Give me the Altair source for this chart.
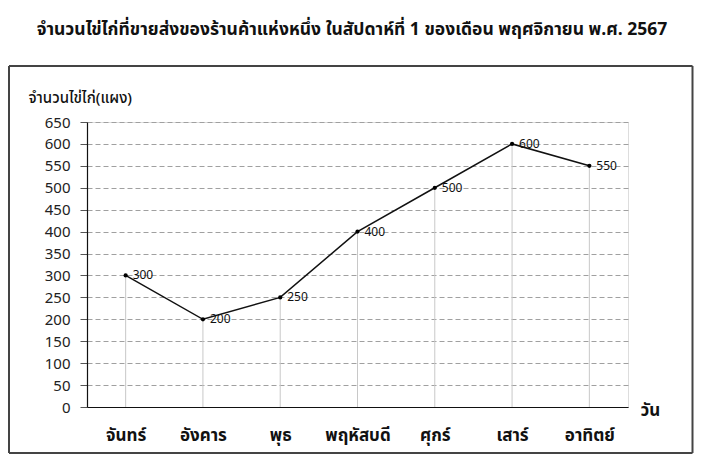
import altair as alt
import pandas as pd

days = ["จันทร์", "อังคาร", "พุธ", "พฤหัสบดี", "ศุกร์", "เสาร์", "อาทิตย์"]
eggs = [300, 200, 250, 400, 500, 600, 550]
y_ticks = list(range(0, 651, 50))
title_text = "จำนวนไข่ไก่ที่ขายส่งของร้านค้าแห่งหนึ่ง ในสัปดาห์ที่ 1 ของเดือน พฤศจิกายน พ.ศ. 2567"

FONT = "Noto Sans Thai, Tahoma, Noto Sans, sans-serif"

df = pd.DataFrame({"day": days, "eggs": eggs})

x_enc = alt.X(
    "day:N", sort=days,
    scale=alt.Scale(type="point", padding=0.5),
    axis=alt.Axis(
        title="วัน", titleAngle=0, titleAlign="left", titleBaseline="middle",
        titleX=553, titleY=3, titleFontSize=17, titleFontWeight="bold",
        titleColor="#111", titleFont=FONT,
        labelFont=FONT, labelFontSize=17, labelFontWeight="bold", labelColor="#111",
        labelPadding=20, ticks=False, grid=False, domainColor="#111", domainWidth=1.2,
        labelAngle=0,
    ),
)
y_enc = alt.Y(
    "eggs:Q",
    scale=alt.Scale(domain=[0, 650], nice=False),
    axis=alt.Axis(
        values=y_ticks, title="จำนวนไข่ไก่(แผง)", titleAngle=0, titleAlign="left",
        titleBaseline="middle", titleX=-59, titleY=-25, titleFontSize=15,
        titleFontWeight=500, titleColor="#111", titleFont=FONT,
        labelFont=FONT, labelFontSize=15, labelColor="#222", labelPadding=10,
        tickSize=7, tickColor="#555", domainColor="#111", domainWidth=1.2,
        grid=True, gridColor="#a0a0a0", gridDash=[5, 3], gridWidth=1,
    ),
)

base = alt.Chart(df)

drop = base.mark_rule(color="#c8c8c8", strokeWidth=1).encode(
    x=x_enc, y=y_enc, y2=alt.datum(0)
)
line = base.mark_line(color="#111", strokeWidth=1.5).encode(x=x_enc, y=y_enc)
pts = base.mark_point(filled=True, color="#000", size=18, opacity=1).encode(x=x_enc, y=y_enc)
lbl = base.mark_text(align="left", baseline="middle", dx=7, fontSize=12, font=FONT, color="#111").encode(
    x=x_enc, y=y_enc, text="eggs:Q"
)

one = pd.DataFrame({"t": [title_text]})
fr = dict(color="#444", strokeWidth=2, clip=False)
L, R, T, B = -78, 605.5, -56, 331
frame_top = alt.Chart(one).mark_rule(**fr).encode(x=alt.value(L), x2=alt.value(R), y=alt.value(T))
frame_bot = alt.Chart(one).mark_rule(**fr).encode(x=alt.value(L), x2=alt.value(R), y=alt.value(B))
frame_l = alt.Chart(one).mark_rule(**fr).encode(x=alt.value(L), y=alt.value(T), y2=alt.value(B))
frame_r = alt.Chart(one).mark_rule(**fr).encode(x=alt.value(R), y=alt.value(T), y2=alt.value(B))

title = alt.Chart(one).mark_text(
    font=FONT, fontSize=17.5, fontWeight="bold", color="#111", align="center", baseline="middle"
).encode(x=alt.value(265), y=alt.value(-92), text="t:N")

chart = alt.layer(frame_top, frame_bot, frame_l, frame_r, drop, line, pts, lbl, title).properties(
    width=541, height=285,
    autosize=alt.AutoSizeParams(type="none"),
    padding={"left": 79, "top": 114, "right": 66, "bottom": 52},
).configure_view(stroke=None).configure(background="white")

chart.save("out.html", embed_options={"renderer": "svg", "actions": False})
